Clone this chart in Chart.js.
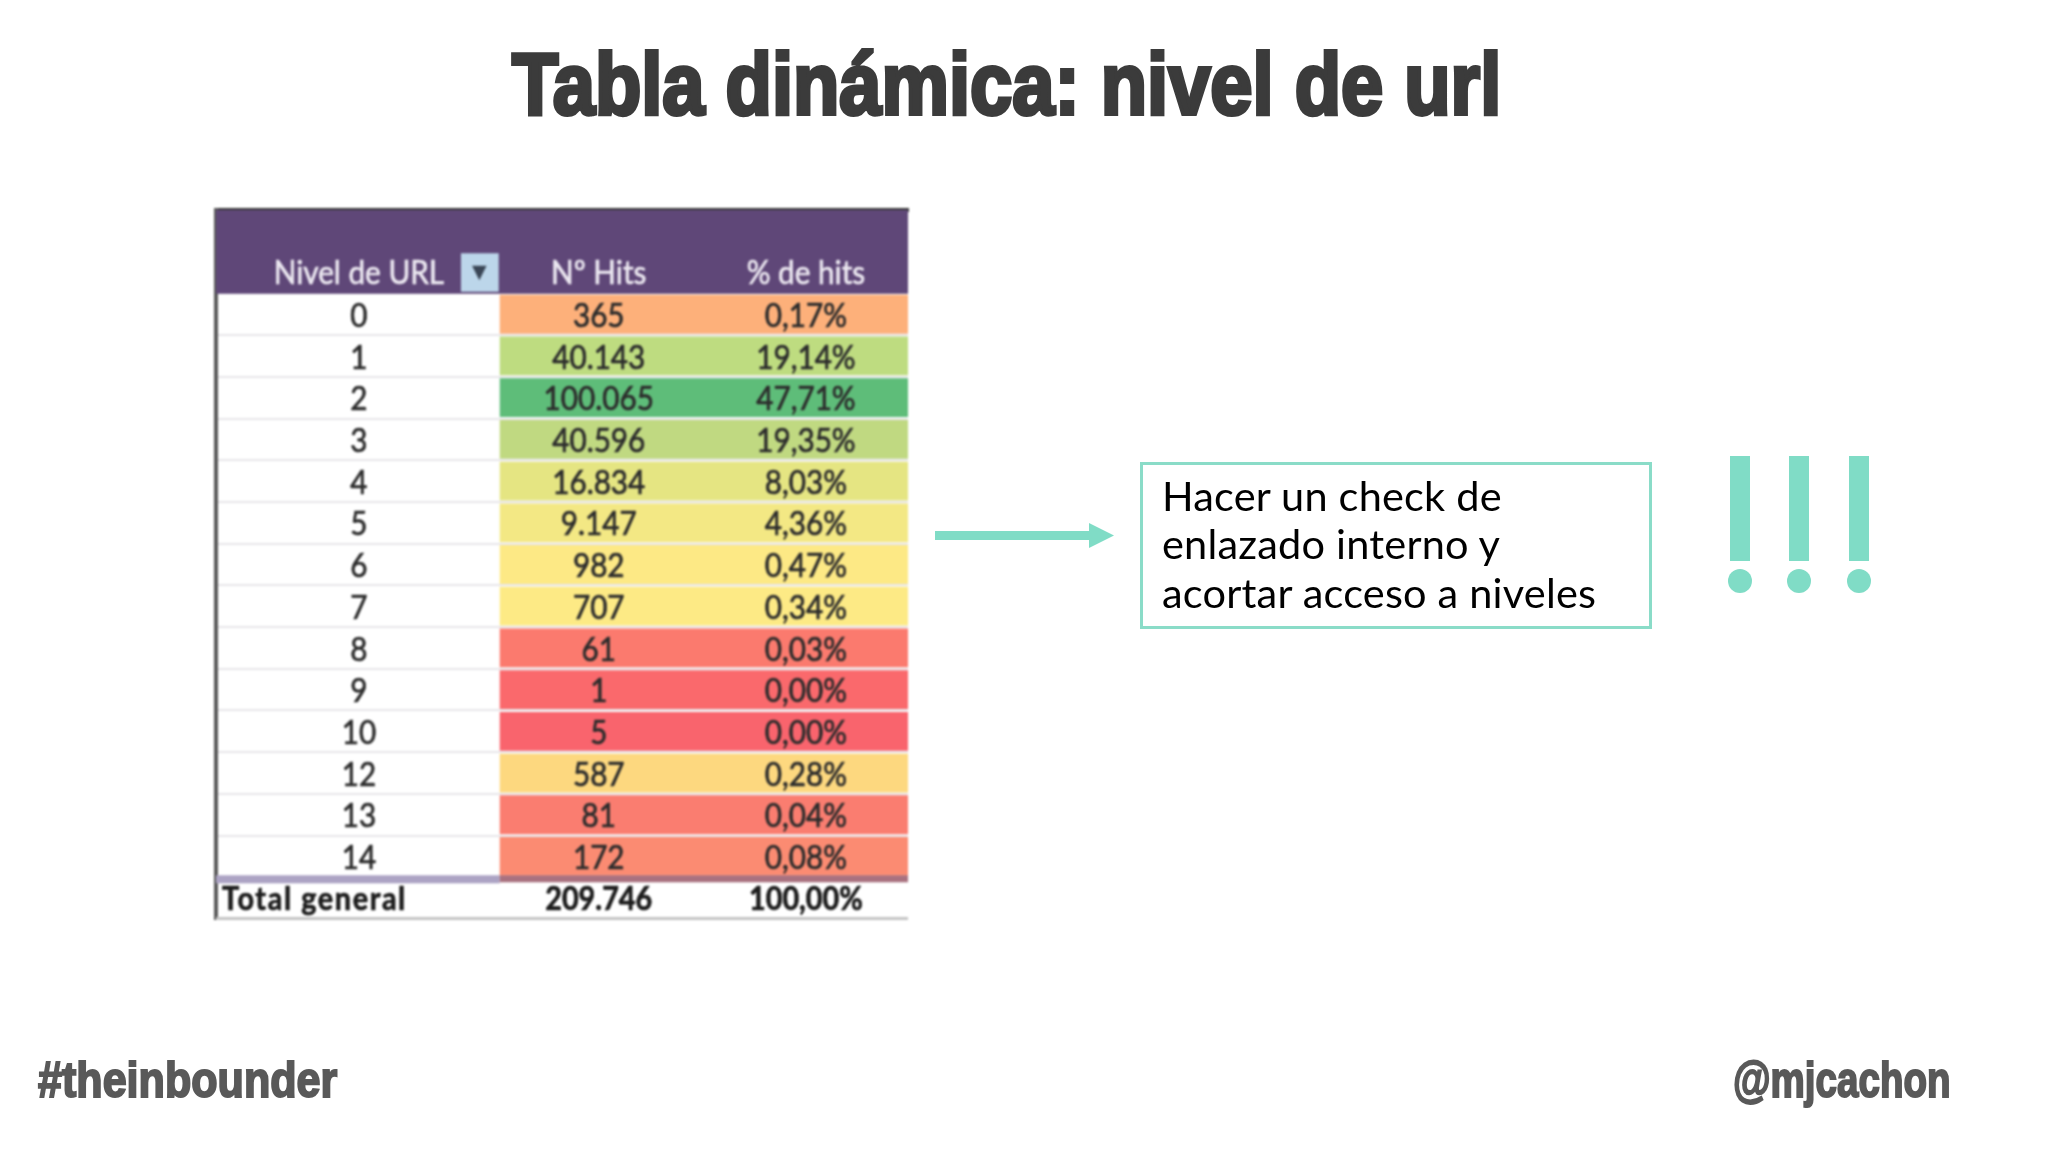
<!DOCTYPE html>
<html lang="es">
<head>
<meta charset="utf-8">
<title>Tabla dinámica: nivel de url</title>
<script src="https://cdn.jsdelivr.net/npm/chart.js@4"></script>
<style>
  html, body { margin: 0; padding: 0; background: #fff; }
  #page { position: relative; width: 2048px; height: 1152px; overflow: hidden; }
  #myChart { position: absolute; left: 0; top: 0; filter: blur(0.9px); }
  .heavy { position: absolute; white-space: nowrap; font-family: "Liberation Sans", sans-serif; font-weight: 700; transform-origin: left top; line-height: 1; }
  #title { left: 512px; top: 40px; font-size: 88px; color: #3b3b3b; -webkit-text-stroke: 4px #3b3b3b; transform: scaleX(0.862); }
  #tagLeft { left: 38px; top: 1055px; font-size: 50px; color: #595959; -webkit-text-stroke: 2px #595959; transform: scaleX(0.862); }
  #tagRight { left: 1733px; top: 1055px; font-size: 50px; color: #595959; -webkit-text-stroke: 2px #595959; transform: scaleX(0.771); }
  #note { position: absolute; left: 1140px; top: 462px; width: 512px; height: 167px; box-sizing: border-box; border: 3px solid #8adcc8; }
  #note div { position: absolute; left: 19px; white-space: nowrap; font: 41.5px/48px Lato, sans-serif; letter-spacing: 0.2px; color: #000; }
  #marks { position: absolute; left: 0; top: 0; }
</style>
</head>
<body>
<div id="page">
  <canvas id="myChart" width="2048" height="1152"></canvas>
  <div id="title" class="heavy">Tabla dinámica: nivel de url</div>
  <div id="tagLeft" class="heavy">#theinbounder</div>
  <div id="tagRight" class="heavy">@mjcachon</div>
  <div id="note">
    <div style="top:6px">Hacer un check de</div>
    <div style="top:54px">enlazado interno y</div>
    <div style="top:103px">acortar acceso a niveles</div>
  </div>
  <svg id="marks" width="2048" height="1152" fill="#80dcc6">
    <rect x="935" y="531" width="156" height="9"/>
    <path d="M1089 523 L1114 535.5 L1089 548 Z"/>
    <rect x="1730" y="456" width="20" height="105"/>
    <rect x="1789" y="456" width="20" height="105"/>
    <rect x="1849" y="456" width="20" height="105"/>
    <ellipse cx="1740" cy="581" rx="12" ry="12"/>
    <ellipse cx="1799" cy="581" rx="12" ry="12"/>
    <ellipse cx="1859" cy="581" rx="12" ry="12"/>
  </svg>
</div>
<script>
const levels = ['0', '1', '2', '3', '4', '5', '6', '7', '8', '9', '10', '12', '13', '14'];
const hits = [365, 40143, 100065, 40596, 16834, 9147, 982, 707, 61, 1, 5, 587, 81, 172];
const hitShares = [0.17, 19.14, 47.71, 19.35, 8.03, 4.36, 0.47, 0.34, 0.03, 0.00, 0.00, 0.28, 0.04, 0.08];
const totalHits = 209746;
const totalShare = 100.00;
const columnHeaders = ['Nivel de URL', 'Nº Hits', '% de hits'];
const totalLabel = 'Total general';

const rowColors = [
    '#fdb07a', '#bedc80', '#5ebd79', '#c0d981', '#e5e582', '#f3e884', '#fde985',
    '#fdea85', '#fb7a6e', '#fa696c', '#f9646d', '#fdd87f', '#fa7d70', '#fb8b72',
];

// two header rows on top, the total row at the bottom
const rowLabels = ['top', columnHeaders[0]].concat(levels, [totalLabel]);

// column edges in x scale units
const colEdges = [0, 1.39, 2.39, 3.39];
const colMiddles = [0.7, 1.875, 2.89];

const headerCells = rowLabels.map(function(label, i) {
    return i < 2 ? [colEdges[0], colEdges[3]] : null;
});
const bodyCells = rowLabels.map(function(label, i) {
    return i >= 2 && i < 2 + levels.length ? [colEdges[1], colEdges[3]] : null;
});
const bodyColors = ['', ''].concat(rowColors, ['']);
const filterCell = rowLabels.map(function(label, i) {
    return i === 1 ? [1.2, 1.385] : null;
});

function formatHits(n) {
    return String(n).replace(/\B(?=(\d{3})+$)/g, '.');
}
function formatShare(n) {
    return n.toFixed(2).replace('.', ',') + '%';
}

// narrow, slightly heavier text, closer to the spreadsheet font
function cellText(ctx, text, px, py) {
    ctx.save();
    ctx.translate(px, py);
    ctx.scale(0.9, 1);
    ctx.fillText(text, 0, 0);
    ctx.strokeText(text, 0, 0);
    ctx.restore();
}

const tableText = {
    id: 'tableText',
    afterDatasetsDraw: function(chart) {
        const ctx = chart.ctx;
        const x = chart.scales.x;
        const y = chart.scales.y;
        const area = chart.chartArea;
        const rowH = y.getPixelForValue(1) - y.getPixelForValue(0);
        const totalTop = y.getPixelForValue(rowLabels.length - 1) - rowH / 2;
        const split = x.getPixelForValue(colEdges[1]);

        // band above the total row
        ctx.save();
        ctx.fillStyle = '#aca3c4';
        ctx.fillRect(area.left, totalTop - 2, split - area.left, 8);
        ctx.fillStyle = '#a9717f';
        ctx.fillRect(split, totalTop - 2, area.right - split, 7);

        // bottom edge
        ctx.fillStyle = '#c4c4c4';
        ctx.fillRect(area.left, area.bottom - 2, area.right - area.left, 3);

        ctx.textAlign = 'center';
        ctx.textBaseline = 'middle';
        ctx.lineWidth = 0.7;

        // header
        const headY = y.getPixelForValue(1) + 1;
        ctx.fillStyle = '#ebe7f0';
        ctx.strokeStyle = '#ebe7f0';
        ctx.font = '33px Lato';
        columnHeaders.forEach(function(text, i) {
            cellText(ctx, text, x.getPixelForValue(colMiddles[i]), headY);
        });
        ctx.fillStyle = '#3a4656';
        ctx.font = '19px "DejaVu Sans"';
        ctx.fillText('▼', x.getPixelForValue(1.29), headY);

        // body
        ctx.fillStyle = '#2c2c2c';
        ctx.strokeStyle = '#2c2c2c';
        ctx.font = '33px Lato';
        levels.forEach(function(level, i) {
            const py = y.getPixelForValue(i + 2) + 2;
            cellText(ctx, level, x.getPixelForValue(colMiddles[0]), py);
            cellText(ctx, formatHits(hits[i]), x.getPixelForValue(colMiddles[1]), py);
            cellText(ctx, formatShare(hitShares[i]), x.getPixelForValue(colMiddles[2]), py);
        });

        // total
        const totalY = y.getPixelForValue(rowLabels.length - 1) + 2;
        ctx.font = '700 32px Lato';
        ctx.fillStyle = '#1c1c1c';
        ctx.strokeStyle = '#1c1c1c';
        cellText(ctx, formatHits(totalHits), x.getPixelForValue(colMiddles[1]), totalY);
        cellText(ctx, formatShare(totalShare), x.getPixelForValue(colMiddles[2]), totalY);
        ctx.textAlign = 'left';
        ctx.letterSpacing = '1.8px';
        cellText(ctx, totalLabel, area.left + 6, totalY);
        ctx.restore();
    }
};

new Chart(document.getElementById('myChart'), {
    type: 'bar',
    data: {
        labels: rowLabels,
        datasets: [
            { label: 'Cabecera', data: headerCells, backgroundColor: '#5f4778', barPercentage: 1, categoryPercentage: 1.02, grouped: false },
            { label: 'Filtro', data: filterCell, backgroundColor: '#bcd6ea', barPercentage: 0.92, categoryPercentage: 1, grouped: false, order: -1 },
            { label: 'Nº Hits y % de hits', data: bodyCells, backgroundColor: bodyColors, barPercentage: 0.93, categoryPercentage: 1, grouped: false },
        ]
    },
    options: {
        indexAxis: 'y',
        responsive: false,
        animation: false,
        layout: { padding: { left: 216, top: 210, right: 1140, bottom: 233 } },
        plugins: { legend: { display: false }, tooltip: { enabled: false }, title: { display: false } },
        scales: {
            x: {
                type: 'linear',
                position: 'top',
                min: colEdges[0],
                max: colEdges[3],
                ticks: { display: false },
                grid: { display: false },
                border: { color: '#3a3a3a', width: 4 },
                afterFit: function(s) { s.height = 0; }
            },
            y: {
                type: 'category',
                ticks: { display: false },
                grid: { color: '#e8e6ea', lineWidth: 2, drawTicks: false },
                border: { color: '#5a5a5a', width: 4 },
                afterFit: function(s) { s.width = 0; }
            }
        }
    },
    plugins: [tableText]
});
</script>
</body>
</html>
